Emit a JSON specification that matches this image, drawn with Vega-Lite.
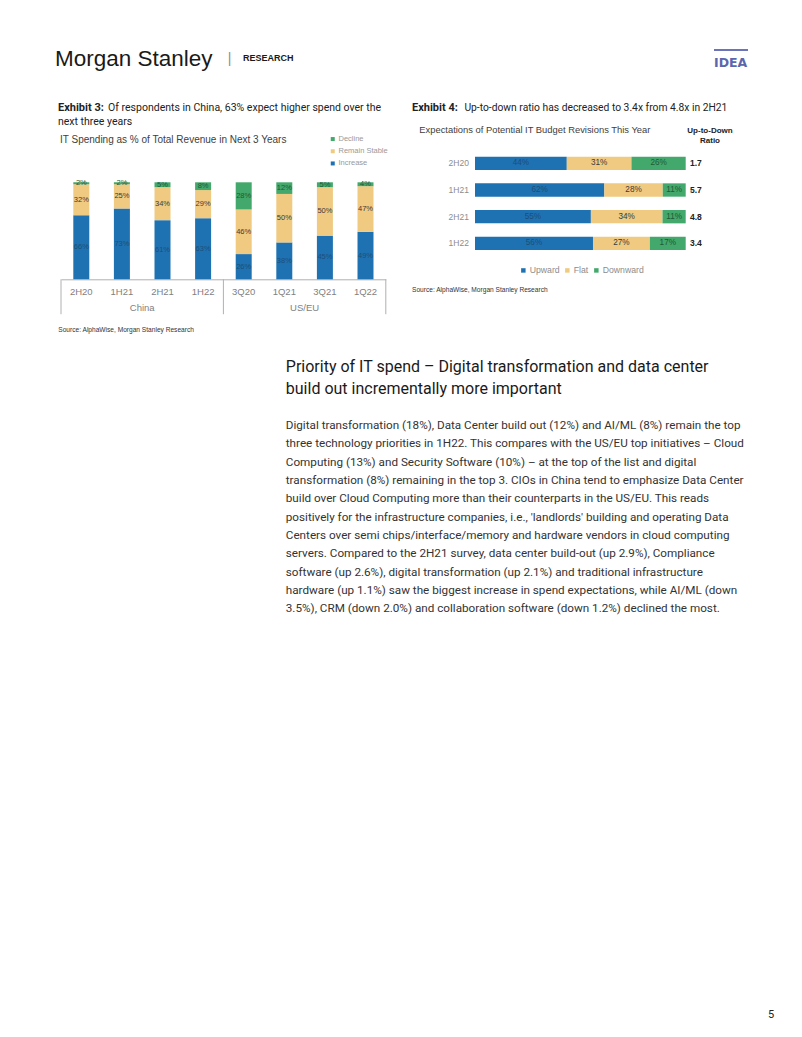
{
  "$schema": "https://vega.github.io/schema/vega-lite/v6.json",
  "background": "white",
  "padding": 0,
  "autosize": {"type": "pad"},
  "config": {
    "view": {"stroke": null},
    "font": "Liberation Sans",
    "title": {"orient": "bottom", "anchor": "start", "frame": "group", "baseline": "top", "offset": 0, "font": "Roboto", "fontSize": 10.5, "fontWeight": "normal", "color": "#222222", "subtitleFont": "Roboto", "subtitleFontSize": 10.5, "subtitleColor": "#222222"}
  },
  "datasets": {
    "ex3": [
      {"region": "China", "period": "2H20", "cat": "Increase", "k": 1, "v": 0.66},
      {"region": "China", "period": "2H20", "cat": "Remain Stable", "k": 2, "v": 0.32},
      {"region": "China", "period": "2H20", "cat": "Decline", "k": 3, "v": 0.02},
      {"region": "China", "period": "1H21", "cat": "Increase", "k": 1, "v": 0.73},
      {"region": "China", "period": "1H21", "cat": "Remain Stable", "k": 2, "v": 0.25},
      {"region": "China", "period": "1H21", "cat": "Decline", "k": 3, "v": 0.02},
      {"region": "China", "period": "2H21", "cat": "Increase", "k": 1, "v": 0.61},
      {"region": "China", "period": "2H21", "cat": "Remain Stable", "k": 2, "v": 0.34},
      {"region": "China", "period": "2H21", "cat": "Decline", "k": 3, "v": 0.05},
      {"region": "China", "period": "1H22", "cat": "Increase", "k": 1, "v": 0.63},
      {"region": "China", "period": "1H22", "cat": "Remain Stable", "k": 2, "v": 0.29},
      {"region": "China", "period": "1H22", "cat": "Decline", "k": 3, "v": 0.08},
      {"region": "US/EU", "period": "3Q20", "cat": "Increase", "k": 1, "v": 0.26},
      {"region": "US/EU", "period": "3Q20", "cat": "Remain Stable", "k": 2, "v": 0.46},
      {"region": "US/EU", "period": "3Q20", "cat": "Decline", "k": 3, "v": 0.28},
      {"region": "US/EU", "period": "1Q21", "cat": "Increase", "k": 1, "v": 0.38},
      {"region": "US/EU", "period": "1Q21", "cat": "Remain Stable", "k": 2, "v": 0.50},
      {"region": "US/EU", "period": "1Q21", "cat": "Decline", "k": 3, "v": 0.12},
      {"region": "US/EU", "period": "3Q21", "cat": "Increase", "k": 1, "v": 0.45},
      {"region": "US/EU", "period": "3Q21", "cat": "Remain Stable", "k": 2, "v": 0.50},
      {"region": "US/EU", "period": "3Q21", "cat": "Decline", "k": 3, "v": 0.05},
      {"region": "US/EU", "period": "1Q22", "cat": "Increase", "k": 1, "v": 0.49},
      {"region": "US/EU", "period": "1Q22", "cat": "Remain Stable", "k": 2, "v": 0.47},
      {"region": "US/EU", "period": "1Q22", "cat": "Decline", "k": 3, "v": 0.04}
    ],
    "regions": [{"region": "China"}, {"region": "US/EU"}],
    "ex4": [
      {"p": "2H20", "cat": "Upward", "k": 1, "v": 0.44},
      {"p": "2H20", "cat": "Flat", "k": 2, "v": 0.31},
      {"p": "2H20", "cat": "Downward", "k": 3, "v": 0.26},
      {"p": "1H21", "cat": "Upward", "k": 1, "v": 0.62},
      {"p": "1H21", "cat": "Flat", "k": 2, "v": 0.28},
      {"p": "1H21", "cat": "Downward", "k": 3, "v": 0.11},
      {"p": "2H21", "cat": "Upward", "k": 1, "v": 0.55},
      {"p": "2H21", "cat": "Flat", "k": 2, "v": 0.34},
      {"p": "2H21", "cat": "Downward", "k": 3, "v": 0.11},
      {"p": "1H22", "cat": "Upward", "k": 1, "v": 0.56},
      {"p": "1H22", "cat": "Flat", "k": 2, "v": 0.27},
      {"p": "1H22", "cat": "Downward", "k": 3, "v": 0.17}
    ],
    "ratios": [
      {"p": "2H20", "ratio": 1.7},
      {"p": "1H21", "ratio": 5.7},
      {"p": "2H21", "ratio": 4.8},
      {"p": "1H22", "ratio": 3.4}
    ]
  },
  "columns": 6,
  "spacing": 0,
  "bounds": "flush",
  "align": "each",
  "concat": [
    {"width": 55, "height": 49, "data": {"values": []}, "mark": "point", "view": {"fill": "white", "stroke": null},
     "title": {"text": "Morgan Stanley", "dx": 55, "offset": -0.8, "font": "Liberation Sans", "fontSize": 22.5, "color": "#1a1a1a"}},
    {"width": 1, "height": 1, "data": {"values": []}, "mark": "point",
     "title": {"text": "|", "dx": 166.8, "offset": 50.9, "font": "Liberation Sans", "fontSize": 14, "color": "#8c8c8c"}},
    {"width": 1, "height": 1, "data": {"values": []}, "mark": "point",
     "title": {"text": "RESEARCH", "dx": -143, "offset": 53.4, "font": "Liberation Sans", "fontWeight": "bold", "fontSize": 9, "color": "#1a1a1a"}},
    {"width": 1, "height": 1, "data": {"values": []}, "mark": "point"},
    {"width": 1, "height": 1, "data": {"values": []}, "mark": "point"},
    {"width": 1, "height": 1, "data": {"values": []}, "mark": "point"},

    {"width": 1, "height": 2, "data": {"values": []}, "mark": "point"},
    {"width": 1, "height": 1, "data": {"values": []}, "mark": "point"},
    {"width": 1, "height": 1, "data": {"values": []}, "mark": "point"},
    {"width": 1, "height": 1, "data": {"values": []}, "mark": "point"},
    {"width": 1, "height": 1, "data": {"values": []}, "mark": "point"},
    {"width": 34, "height": 2, "data": {"values": []}, "mark": "point", "view": {"fill": "#6b74b8", "stroke": null},
     "title": {"text": "IDEA", "offset": 6.1, "font": "DejaVu Sans", "fontWeight": "bold", "fontSize": 12.5, "color": "#5c66ad"}},

    {"width": 1, "height": 40, "data": {"values": []}, "mark": "point",
     "title": {"text": "Exhibit 3:", "dx": 58, "offset": 11.3, "fontWeight": "bold", "fontSize": 11, "subtitle": "next three years", "subtitlePadding": 4}},
    {"width": 1, "height": 1, "data": {"values": []}, "mark": "point",
     "title": {"text": "Of respondents in China, 63% expect higher spend over the", "dx": 47.1, "offset": 50.7}},
    {"width": 1, "height": 1, "data": {"values": []}, "mark": "point",
     "title": {"text": "Exhibit 4:", "dx": 26, "offset": 50.3, "fontWeight": "bold", "fontSize": 11}},
    {"width": 1, "height": 1, "data": {"values": []}, "mark": "point",
     "title": {"text": "Up-to-down ratio has decreased to 3.4x from 4.8x in 2H21", "dx": -10.6, "offset": 50.7, "fontSize": 10.3}},
    {"width": 1, "height": 1, "data": {"values": []}, "mark": "point"},
    {"width": 1, "height": 1, "data": {"values": []}, "mark": "point"},

    {"width": 1, "height": 59, "data": {"values": []}, "mark": "point",
     "title": {"text": "IT Spending as % of Total Revenue in Next 3 Years", "dx": 60, "offset": -14.9, "font": "Liberation Sans", "fontSize": 10, "color": "#404040"}},
    {"width": 1, "height": 1, "data": {"values": []}, "mark": "point"},
    {"width": 1, "height": 1, "data": {"values": []}, "mark": "point",
     "title": {"text": "Expectations of Potential IT Budget Revisions This Year", "dx": 33.3, "offset": 33.6, "font": "Liberation Sans", "fontSize": 9.4, "color": "#404040"}},
    {"width": 1, "height": 1, "data": {"values": []}, "mark": "point"},
    {"width": 1, "height": 1, "data": {"values": []}, "mark": "point",
     "title": {"text": ["Up-to-Down", "Ratio"], "dx": 23.5, "offset": 34.7, "anchor": "middle", "lineHeight": 10, "font": "Liberation Sans", "fontWeight": "bold", "fontSize": 8, "color": "#222222"}},
    {"width": 1, "height": 1, "data": {"values": []}, "mark": "point"},

    {"width": 60.2, "height": 129.3, "data": {"values": []}, "mark": "point"},
    {
      "width": 324.8,
      "height": 129.3,
      "data": {"name": "ex3"},
      "layer": [
        {
          "layer": [
            {
              "mark": {"type": "bar"},
              "encoding": {
                "x": {"field": "period", "type": "nominal",
                      "scale": {"domain": ["2H20", "1H21", "2H21", "1H22", "3Q20", "1Q21", "3Q21", "1Q22"], "paddingInner": 0.606, "paddingOuter": 0.303},
                      "axis": {"title": null, "labelAngle": 0, "labelFont": "Liberation Sans", "labelFontSize": 9.5, "labelColor": "#7f7f7f", "ticks": false, "tickSize": 0, "labelPadding": 7, "domainColor": "#b0b0b0", "domainWidth": 1}},
                "y": {"field": "v", "type": "quantitative", "stack": "zero", "scale": {"domain": [0, 1], "range": [129.3, 32.3]}, "axis": null},
                "color": {"field": "cat", "type": "nominal",
                          "scale": {"domain": ["Decline", "Remain Stable", "Increase"], "range": ["#43a86b", "#efca80", "#1f72b1"]},
                          "legend": {"orient": "none", "legendX": 268, "legendY": -14.7, "title": null, "symbolType": "square", "symbolSize": 16, "labelFontSize": 7.5, "labelColor": "#9a9a9a", "labelFont": "Liberation Sans", "rowPadding": 3.2, "labelOffset": 2}},
                "order": {"field": "k", "type": "quantitative"}
              }
            },
            {
              "transform": [
                {"stack": "v", "groupby": ["period"], "sort": [{"field": "k", "order": "ascending"}], "as": ["v0", "v1"]},
                {"fold": ["v0", "v1"], "as": ["edge", "pos"]},
                {"aggregate": [{"op": "mean", "field": "pos", "as": "mid"}], "groupby": ["period", "cat", "v"]}
              ],
              "mark": {"type": "text", "fontSize": 7.5, "font": "Liberation Sans", "baseline": "middle"},
              "encoding": {
                "x": {"field": "period", "type": "nominal"},
                "y": {"field": "mid", "type": "quantitative"},
                "text": {"field": "v", "type": "quantitative", "format": ".0%"},
                "color": {"field": "cat", "type": "nominal",
                          "scale": {"domain": ["Decline", "Remain Stable", "Increase"], "range": ["#1f5a36", "#3a3a3a", "#1b4f7a"]},
                          "legend": null}
              }
            }
          ],
          "resolve": {"scale": {"color": "independent"}}
        },
        {
          "data": {"name": "regions"},
          "mark": {"type": "rule", "color": "#b0b0b0", "strokeWidth": 1},
          "encoding": {
            "x": {"field": "region", "type": "nominal", "bandPosition": 0, "scale": {"paddingInner": 0, "paddingOuter": 0}, "axis": null},
            "y": {"datum": 0},
            "y2": {"datum": -0.36}
          }
        },
        {
          "data": {"name": "regions"},
          "transform": [{"filter": "datum.region === 'US/EU'"}],
          "mark": {"type": "rule", "color": "#b0b0b0", "strokeWidth": 1},
          "encoding": {
            "x": {"field": "region", "type": "nominal", "bandPosition": 1, "scale": {"domain": ["China", "US/EU"], "paddingInner": 0, "paddingOuter": 0}, "axis": null},
            "y": {"datum": 0},
            "y2": {"datum": -0.36}
          }
        },
        {
          "data": {"name": "regions"},
          "mark": {"type": "text", "fontSize": 9.5, "color": "#7f7f7f", "font": "Liberation Sans", "baseline": "middle"},
          "encoding": {
            "x": {"field": "region", "type": "nominal", "scale": {"paddingInner": 0, "paddingOuter": 0}, "axis": null},
            "y": {"datum": -0.293},
            "text": {"field": "region"}
          }
        }
      ],
      "resolve": {"scale": {"x": "independent"}}
    },
    {"width": 88.3, "height": 1, "data": {"values": []}, "mark": "point"},
    {
      "width": 210.7,
      "height": 106.7,
      "data": {"name": "ex4"},
      "layer": [
        {
          "mark": {"type": "bar"},
          "encoding": {
            "y": {"field": "p", "type": "nominal", "scale": {"domain": ["2H20", "1H21", "2H21", "1H22"], "paddingInner": 0.5, "paddingOuter": 0.25},
                  "axis": {"title": null, "domain": false, "ticks": false, "tickSize": 0, "labelFontSize": 8.5, "labelColor": "#8c8c8c", "labelPadding": 6.6, "labelFont": "Liberation Sans"}},
            "x": {"field": "v", "type": "quantitative", "stack": "normalize", "axis": null},
            "color": {"field": "cat", "type": "nominal",
                      "scale": {"domain": ["Upward", "Flat", "Downward"], "range": ["#1f72b1", "#efca80", "#43a86b"]},
                      "legend": {"orient": "none", "legendX": 44, "legendY": 115.6, "direction": "horizontal", "title": null, "symbolType": "square", "symbolSize": 20, "labelFontSize": 8.7, "labelColor": "#8c8c8c", "labelFont": "Liberation Sans", "columnPadding": 3, "labelOffset": 2}},
            "order": {"field": "k", "type": "quantitative"}
          }
        },
        {
          "transform": [
            {"stack": "v", "groupby": ["p"], "sort": [{"field": "k", "order": "ascending"}], "offset": "normalize", "as": ["v0", "v1"]},
            {"fold": ["v0", "v1"], "as": ["edge", "pos"]},
            {"aggregate": [{"op": "mean", "field": "pos", "as": "mid"}], "groupby": ["p", "cat", "v"]}
          ],
          "mark": {"type": "text", "fontSize": 8.2, "font": "Liberation Sans", "baseline": "middle"},
          "encoding": {
            "y": {"field": "p", "type": "nominal"},
            "x": {"field": "mid", "type": "quantitative"},
            "text": {"field": "v", "type": "quantitative", "format": ".0%"},
            "color": {"field": "cat", "type": "nominal",
                      "scale": {"domain": ["Upward", "Flat", "Downward"], "range": ["#1b4f7a", "#3a3a3a", "#1f5a36"]},
                      "legend": null}
          }
        },
        {
          "data": {"name": "ratios"},
          "mark": {"type": "text", "align": "left", "dx": 4.3, "fontWeight": "bold", "fontSize": 8.5, "font": "Liberation Sans", "color": "#222222", "baseline": "middle"},
          "encoding": {
            "y": {"field": "p", "type": "nominal"},
            "x": {"datum": 1},
            "text": {"field": "ratio", "type": "quantitative", "format": ".1f"}
          }
        }
      ],
      "resolve": {"scale": {"color": "independent"}}
    },
    {"width": 28, "height": 1, "data": {"values": []}, "mark": "point"},
    {"width": 34, "height": 1, "data": {"values": []}, "mark": "point"},

    {"width": 1, "height": 10, "data": {"values": []}, "mark": "point",
     "title": {"text": "Source: AlphaWise, Morgan Stanley Research", "dx": 58.3, "offset": 37, "font": "Liberation Sans", "fontSize": 6.6, "color": "#333333"}},
    {"width": 1, "height": 1, "data": {"values": []}, "mark": "point"},
    {"width": 1, "height": 1, "data": {"values": []}, "mark": "point",
     "title": {"text": "Source: AlphaWise, Morgan Stanley Research", "dx": 26, "offset": 6, "font": "Liberation Sans", "fontSize": 6.6, "color": "#333333"}},
    {"width": 1, "height": 1, "data": {"values": []}, "mark": "point"},
    {"width": 1, "height": 1, "data": {"values": []}, "mark": "point"},
    {"width": 1, "height": 1, "data": {"values": []}, "mark": "point"},

    {"width": 1, "height": 10, "data": {"values": []}, "mark": "point"},
    {"width": 1, "height": 1, "data": {"values": []}, "mark": "point",
     "title": {
       "text": ["Priority of IT spend – Digital transformation and data center", "build out incrementally more important"],
       "dx": 224.8, "offset": 68, "fontSize": 16, "lineHeight": 22, "color": "#1a1a1a",
       "subtitle": [
         "Digital transformation (18%), Data Center build out (12%) and AI/ML (8%) remain the top",
         "three technology priorities in 1H22. This compares with the US/EU top initiatives – Cloud",
         "Computing (13%) and Security Software (10%) – at the top of the list and digital",
         "transformation (8%) remaining in the top 3. CIOs in China tend to emphasize Data Center",
         "build over Cloud Computing more than their counterparts in the US/EU. This reads",
         "positively for the infrastructure companies, i.e., 'landlords' building and operating Data",
         "Centers over semi chips/interface/memory and hardware vendors in cloud computing",
         "servers. Compared to the 2H21 survey, data center build-out (up 2.9%), Compliance",
         "software (up 2.6%), digital transformation (up 2.1%) and traditional infrastructure",
         "hardware (up 1.1%) saw the biggest increase in spend expectations, while AI/ML (down",
         "3.5%), CRM (down 2.0%) and collaboration software (down 1.2%) declined the most."
       ],
       "subtitleFontSize": 11.7, "subtitleLineHeight": 18.33, "subtitleColor": "#333333", "subtitlePadding": 23
     }},
    {"width": 1, "height": 1, "data": {"values": []}, "mark": "point"},
    {"width": 1, "height": 1, "data": {"values": []}, "mark": "point"},
    {"width": 1, "height": 1, "data": {"values": []}, "mark": "point"},
    {"width": 1, "height": 1, "data": {"values": []}, "mark": "point"},

    {"width": 1, "height": 1, "data": {"values": []}, "mark": "point"},
    {"width": 1, "height": 1, "data": {"values": []}, "mark": "point"},
    {"width": 1, "height": 1, "data": {"values": []}, "mark": "point"},
    {"width": 1, "height": 1, "data": {"values": []}, "mark": "point"},
    {"width": 1, "height": 1, "data": {"values": []}, "mark": "point"},
    {"width": 1, "height": 1, "data": {"values": []}, "mark": "point",
     "title": {"text": "5", "dx": 54, "offset": 708, "fontSize": 11, "color": "#222222"}}
  ]
}
